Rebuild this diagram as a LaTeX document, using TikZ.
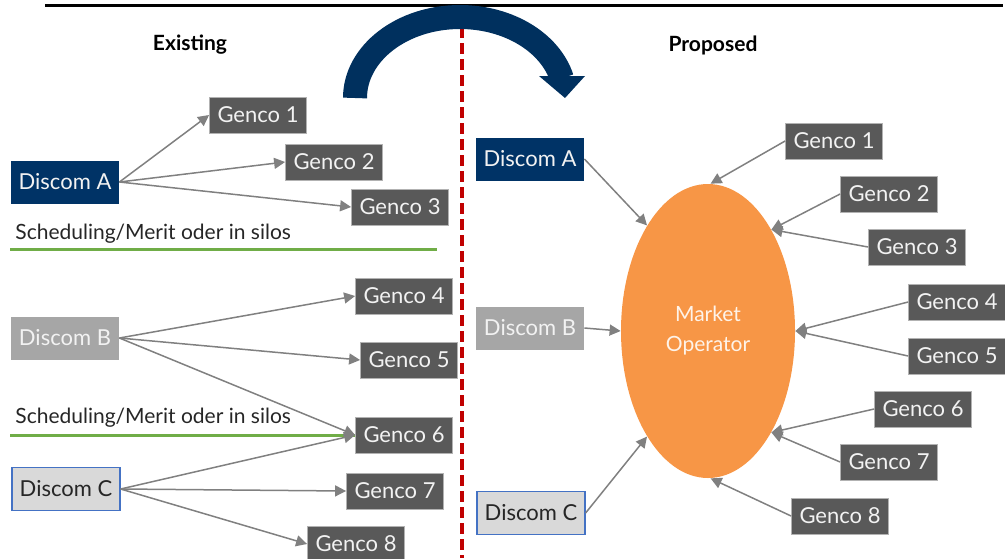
\documentclass[tikz,border=0pt]{standalone}
\usepackage{fontspec}
\setmainfont{Lato}
\usetikzlibrary{arrows.meta,shapes.geometric}
\definecolor{discomblue}{RGB}{0,51,102}
\definecolor{gencogray}{RGB}{89,89,89}
\definecolor{discomgray}{RGB}{166,166,166}
\definecolor{discomlight}{RGB}{217,217,217}
\definecolor{edgeblue}{RGB}{68,114,196}
\definecolor{silogreen}{RGB}{112,173,71}
\definecolor{marketorange}{RGB}{247,150,70}
\definecolor{arcnavy}{RGB}{0,48,94}
\definecolor{splitred}{RGB}{192,0,0}
\definecolor{flowgray}{RGB}{128,128,128}

\begin{document}
\begin{tikzpicture}[x=0.5pt,y=-0.5pt,
    every node/.style={font=\fontsize{11}{13}\selectfont},
    genco/.style={fill=gencogray,draw=gray!60,line width=0.4pt,text=white!95!black,
      minimum width=48.5pt,minimum height=18pt,inner sep=0pt},
    discom/.style={minimum width=54pt,minimum height=21.5pt,inner sep=0pt},
    discoma/.style={discom,fill=discomblue,text=white!95!black},
    discomb/.style={discom,fill=discomgray,text=white!95!black},
    discomc/.style={discom,fill=discomlight,draw=edgeblue,line width=0.6pt,text=black!85},
    heading/.style={font=\fontsize{10.5}{12}\bfseries\selectfont},
    silotext/.style={anchor=base west,inner sep=0pt,text=black!85,font=\fontsize{10.5}{12}\selectfont},
    siloline/.style={silogreen,line width=1.5pt},
    flow/.style={flowgray,line width=0.75pt,-{Triangle[length=5.5pt,width=5.5pt]}}]
  \useasboundingbox (0,0) rectangle (1005,558);

  % frame line, divider and the turn-over arrow
  \draw[black,line width=1.5pt] (45,5) -- (1003,5);
  \draw[splitred,line width=1.6pt,dash pattern=on 5.5pt off 2.5pt] (462,27) -- (462,558);
  \draw[arcnavy,line width=12pt] (355,98) arc[start angle=180,end angle=14,x radius=52.5pt,y radius=40.5pt];
  \fill[arcnavy] (539,76) -- (585,76) -- (565,98) -- cycle;

  \node[heading] (exist) at (190,45) {Existing};
  \node[heading] (prop) at (713,45) {Proposed};

  % existing side
  \node[discoma] (dA) at (65,182) {Discom A};
  \node[genco] (g1L) at (258,115) {Genco 1};
  \node[genco] (g2L) at (334,162) {Genco 2};
  \node[genco] (g3L) at (400,207) {Genco 3};
  \node[silotext] (silo1) at (15,239) {Scheduling/Merit oder in silos};
  \draw[siloline] (10,249) -- (437,249);

  \node[discomb] (dB) at (65,338) {Discom B};
  \node[genco] (g4L) at (404,296) {Genco 4};
  \node[genco] (g5L) at (409,360) {Genco 5};
  \node[genco] (g6L) at (404,435) {Genco 6};
  \node[silotext] (silo2) at (15,423) {Scheduling/Merit oder in silos};
  \draw[siloline] (10,435) -- (g6L.west);

  \node[discomc] (dC) at (66,489) {Discom C};
  \node[genco] (g7L) at (395,491) {Genco 7};
  \node[genco] (g8L) at (356,544) {Genco 8};

  \draw[flow] (dA.east) -- (g1L.west);
  \draw[flow] (dA.east) -- (g2L.west);
  \draw[flow] (dA.east) -- (g3L.west);
  \draw[flow] (dB.east) -- (g4L.west);
  \draw[flow] (dB.east) -- (g5L.west);
  \draw[flow] (dB.east) -- (g6L.west);
  \draw[flow] (dC.east) -- (g6L.west);
  \draw[flow] (dC.east) -- (g7L.west);
  \draw[flow] (dC.east) -- (g8L.west);

  % proposed side
  \node[ellipse,fill=marketorange,minimum width=87pt,minimum height=147pt,inner sep=0pt,
    text=white!88!marketorange,align=center,font=\fontsize{10.5}{15}\selectfont] (mo) at (708,331) {Market\\Operator};
  \node[discoma] (dAR) at (530,159) {Discom A};
  \node[discomb] (dBR) at (530,328) {Discom B};
  \node[discomc] (dCR) at (531,513) {Discom C};
  \node[genco] (g1R) at (834,141) {Genco 1};
  \node[genco] (g2R) at (889,194) {Genco 2};
  \node[genco] (g3R) at (917,247) {Genco 3};
  \node[genco] (g4R) at (957,302) {Genco 4};
  \node[genco] (g5R) at (957,356) {Genco 5};
  \node[genco] (g6R) at (923,409) {Genco 6};
  \node[genco] (g7R) at (889,462) {Genco 7};
  \node[genco] (g8R) at (840,516) {Genco 8};

  \draw[flow] (dAR.east) -- (mo.120);
  \draw[flow] (dBR.east) -- (mo.west);
  \draw[flow] (dCR.east) -- (mo.240);
  \draw[flow] (g1R.west) -- (mo.89);
  \draw[flow] (g2R.west) -- (mo.58);
  \draw[flow] (g3R.west) -- (mo.58);
  \draw[flow] (g4R.west) -- (mo.east);
  \draw[flow] (g5R.west) -- (mo.east);
  \draw[flow] (g6R.west) -- (mo.302);
  \draw[flow] (g7R.west) -- (mo.302);
  \draw[flow] (g8R.west) -- (mo.271);
\end{tikzpicture}
\end{document}
